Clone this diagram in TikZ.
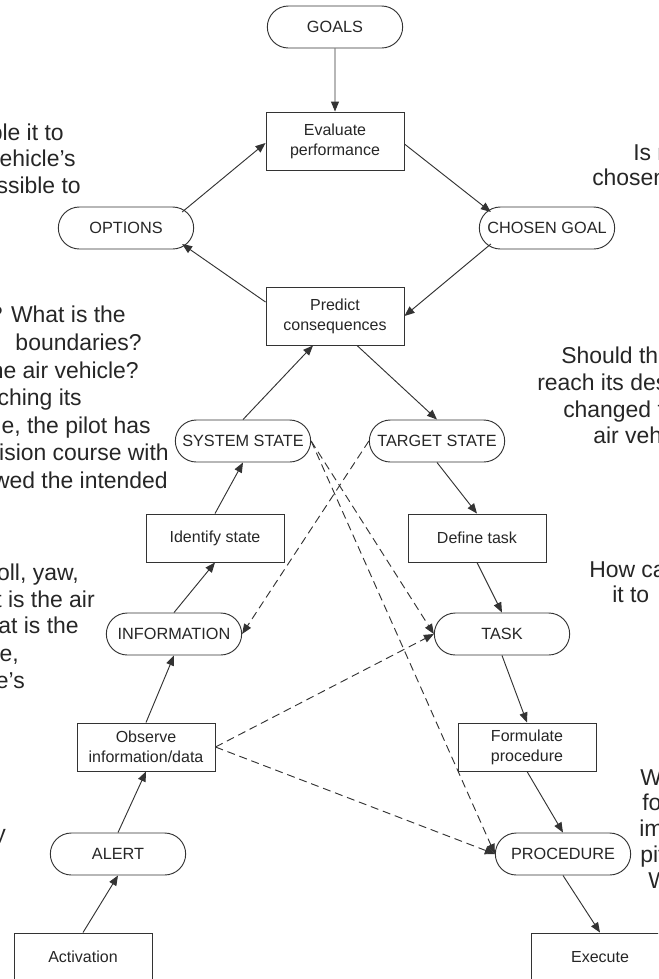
\documentclass[tikz,border=0pt]{standalone}
\usepackage{fontspec}
\setmainfont{Liberation Sans}
\usetikzlibrary{arrows.meta,calc,shapes.misc}

\begin{document}
\begin{tikzpicture}[x=0.75pt,y=-0.75pt,
  ink/.style={draw=black!80, line width=0.7pt},
  conn/.style={ink, -{Triangle[length=7.5pt,width=6pt]}},
  dconn/.style={conn, dash pattern=on 6pt off 3.6pt},
  pill/.style={rounded rectangle, ink, minimum width=103.5pt, minimum height=31.5pt,
    inner sep=1pt, text=black!85, font=\fontsize{12.2}{15}\selectfont},
  stepbox/.style={rectangle, ink, minimum width=103.5pt, minimum height=36pt,
    inner sep=1pt, align=center, text=black!85, font=\fontsize{12}{15}\selectfont},
  tallbox/.style={stepbox, minimum height=43.5pt},
  note/.style={inner sep=0pt, text=black!85, font=\fontsize{17.2}{20}\selectfont},
]
\useasboundingbox (0,0) rectangle (658,979);
\clip (0,0) rectangle (658,979);

% ---- decision cycle -------------------------------------------------
\node[pill]     (goals) at (335,27)  {GOALS};
\node[tallbox]  (eval)  at (335,141) {Evaluate\\performance};
\node[pill]     (opt)   at (126,228) {OPTIONS};
\node[pill]     (cg)    at (547,228) {CHOSEN GOAL};
\node[tallbox]  (pred)  at (335,316) {Predict\\consequences};

% ---- left leg: perception ------------------------------------------
\node[pill]     (ss)    at (243,441) {SYSTEM STATE};
\node[stepbox]  (ident) at (215,538) {Identify state};
\node[pill]     (info)  at (174,634) {INFORMATION};
\node[stepbox]  (obs)   at (146,747) {Observe\\information/data};
\node[pill]     (alert) at (118,854) {ALERT};
\node[stepbox]  (act)   at (83,957)  {Activation};

% ---- right leg: action ---------------------------------------------
\node[pill]     (ts)    at (437,441) {TARGET STATE};
\node[stepbox]  (def)   at (477,538) {Define task};
\node[pill]     (task)  at (502,634) {TASK};
\node[stepbox]  (form)  at (527,747) {Formulate\\procedure};
\node[pill]     (proc)  at (563,854) {PROCEDURE};
\node[stepbox]  (exe)   at (600,957) {Execute};

% ---- solid connectors ----------------------------------------------
\draw[conn] (goals) -- (eval);
\draw[conn] ($(eval.east)+(0,3)$) -- ($(cg.west)+(12,-16)$);
\draw[conn] ($(cg.west)+(12,16)$) -- (pred.east);
\draw[conn] ($(pred.west)+(0,-14)$) -- ($(opt.east)+(-12,16)$);
\draw[conn] ($(opt.east)+(-12,-16)$) -- ($(eval.west)+(0,2)$);
\draw[conn] (ss.north) -- ($(pred.south)+(-22,0)$);
\draw[conn] ($(pred.south)+(22,0)$) -- (ts.north);
\draw[conn] (ident.north) -- (ss.south);
\draw[conn] (info.north) -- (ident.south);
\draw[conn] (obs.north) -- (info.south);
\draw[conn] (alert.north) -- (obs.south);
\draw[conn] (act.north) -- (alert.south);
\draw[conn] (ts.south) -- (def.north);
\draw[conn] (def.south) -- (task.north);
\draw[conn] (task.south) -- (form.north);
\draw[conn] (form.south) -- (proc.north);
\draw[conn] (proc.south) -- (exe.north);

% ---- dashed connectors ---------------------------------------------
\draw[dconn] (ts.west) -- (info.east);
\draw[dconn] (ss.east) -- (task.west);
\draw[dconn] (ss.east) -- (proc.west);
\draw[dconn] (obs.east) -- (task.west);
\draw[dconn] (obs.east) -- (proc.west);

% ---- margin notes, left ---------------------------------------------
\node[note, anchor=mid east] (l1) at (64,137) {ble it to};
\node[note, anchor=mid east] (l2) at (76,163) {ehicle’s};
\node[note, anchor=mid east] (l3) at (81,190) {ssible to};

\node[note, anchor=mid east] (m1) at (126,319) {? What is the};
\node[note, anchor=mid east] (m2) at (142,347) {boundaries?};
\node[note, anchor=mid east] (m3) at (139,375) {he air vehicle?};
\node[note, anchor=mid east] (m4) at (82,402)  {ching its};
\node[note, anchor=mid east] (m5) at (151,430) {e, the pilot has};
\node[note, anchor=mid east] (m6) at (169,457) {ision course with};
\node[note, anchor=mid east] (m7) at (168,485) {wed the intended};

\node[note, anchor=mid east] (n1) at (79,577) {oll, yaw,};
\node[note, anchor=mid east] (n2) at (95,604) {t is the air};
\node[note, anchor=mid east] (n3) at (79,630) {at is the};
\node[note, anchor=mid east] (n4) at (19,658) {e,};
\node[note, anchor=mid east] (n5) at (25,685) {e’s};
\node[note, anchor=mid east] (n6) at (6,838)  {y};

% ---- margin notes, right --------------------------------------------
\node[note, anchor=mid west] (r1) at (633,157) {Is r};
\node[note, anchor=mid west] (r2) at (592,182) {chosen};

\node[note, anchor=mid west] (s1) at (561,360) {Should th};
\node[note, anchor=mid west] (s2) at (537,387) {reach its des};
\node[note, anchor=mid west] (s3) at (563,414) {changed t};
\node[note, anchor=mid west] (s4) at (593,440) {air veh};

\node[note, anchor=mid west] (h1) at (589,574) {How ca};
\node[note, anchor=mid west] (h2) at (612,599) {it to};

\node[note, anchor=mid west] (w1) at (640,782) {W};
\node[note, anchor=mid west] (w2) at (642,807) {fo};
\node[note, anchor=mid west] (w3) at (639,833) {im};
\node[note, anchor=mid west] (w4) at (640,859) {pit};
\node[note, anchor=mid west] (w5) at (648,885) {W};
\end{tikzpicture}
\end{document}
